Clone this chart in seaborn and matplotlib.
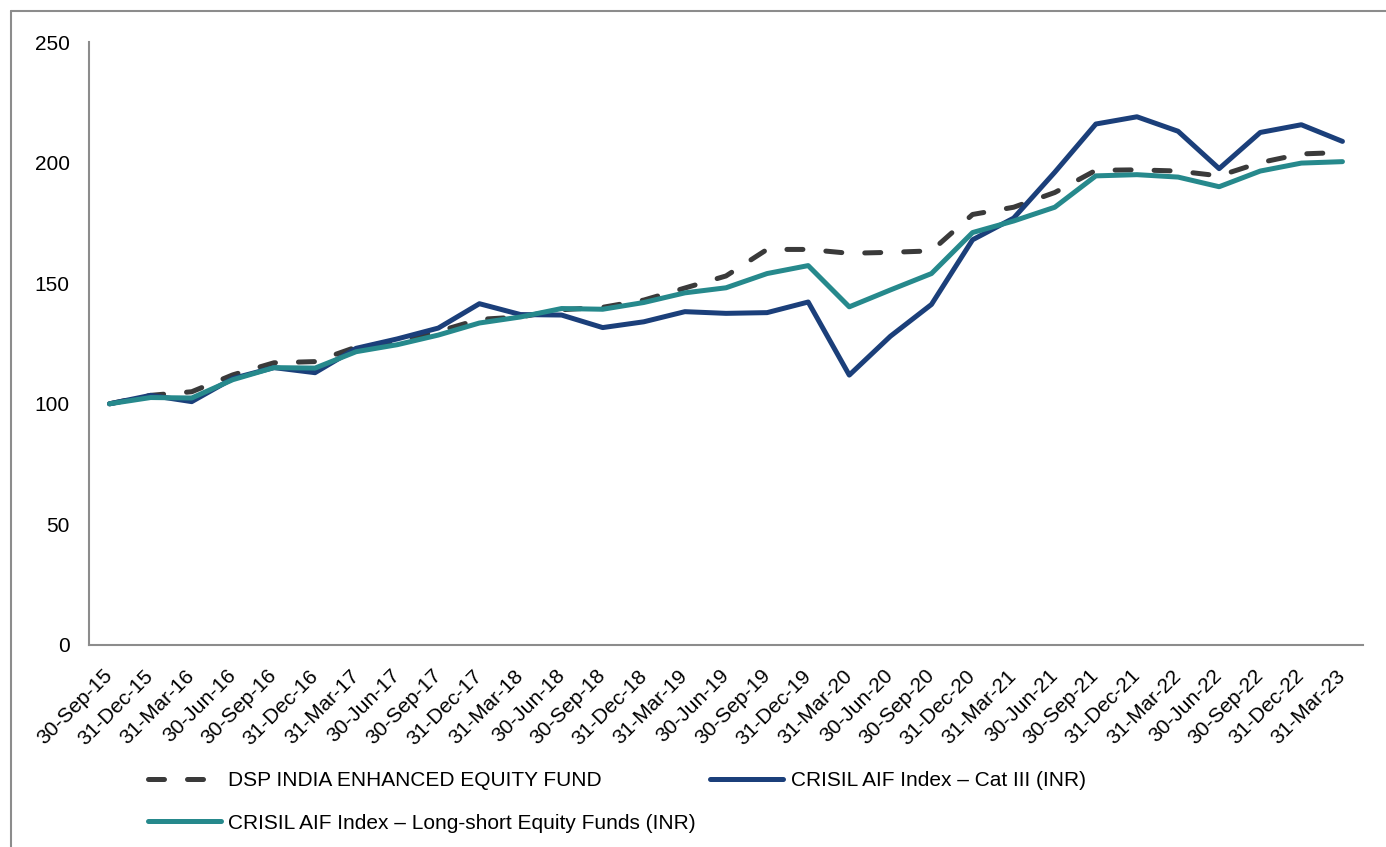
import matplotlib
matplotlib.use("Agg")
import matplotlib.pyplot as plt
from matplotlib.lines import Line2D
import numpy as np
import pandas as pd
import seaborn as sns

# quarter-end dates shown on the x axis
dates = ["30-Sep-15", "31-Dec-15", "31-Mar-16", "30-Jun-16", "30-Sep-16", "31-Dec-16",
         "31-Mar-17", "30-Jun-17", "30-Sep-17", "31-Dec-17", "31-Mar-18", "30-Jun-18",
         "30-Sep-18", "31-Dec-18", "31-Mar-19", "30-Jun-19", "30-Sep-19", "31-Dec-19",
         "31-Mar-20", "30-Jun-20", "30-Sep-20", "31-Dec-20", "31-Mar-21", "30-Jun-21",
         "30-Sep-21", "31-Dec-21", "31-Mar-22", "30-Jun-22", "30-Sep-22", "31-Dec-22",
         "31-Mar-23"]

# values rebased to 100
dsp_fund = [100, 103.5, 105, 112, 117, 117.5, 123.5, 125.8, 130, 135, 136, 139,
            140, 143, 148, 153, 164, 164, 162.4, 162.8, 163.4, 178.5, 181.5, 187.6,
            196.8, 197, 196.5, 194.5, 200, 203.6, 204.2]
cat_iii = [100, 103.5, 100.9, 110.5, 115, 112.9, 123, 126.9, 131.4, 141.5, 137, 136.8,
           131.6, 134, 138.2, 137.5, 137.8, 142.2, 111.9, 128, 141.2, 168, 177, 196,
           216, 219, 213, 197.5, 212.5, 215.7, 208.8]
long_short = [100, 102.6, 102.4, 110, 115, 114.8, 121.6, 124.5, 128.5, 133.5, 136, 139.5,
              139.2, 142, 146, 148.1, 154, 157.3, 140.2, 147.2, 154, 171, 175.8, 181.5,
              194.5, 195, 194, 190, 196.5, 199.8, 200.4]

labels = ["DSP INDIA ENHANCED EQUITY FUND",
          "CRISIL AIF Index \u2013 Cat III (INR)",
          "CRISIL AIF Index \u2013 Long-short Equity Funds (INR)"]

pos = np.arange(len(dates))
df = pd.DataFrame({"pos": pos, "dsp": dsp_fund, "cat3": cat_iii, "ls": long_short})

sns.set_theme(style="white")
plt.rcParams['font.family'] = ['Liberation Sans', 'DejaVu Sans']
plt.rcParams['text.color'] = 'black'
plt.rcParams['xtick.labelcolor'] = 'black'
plt.rcParams['ytick.labelcolor'] = 'black'

fig = plt.figure(figsize=(13.86, 8.47), dpi=100)
ax = fig.add_axes([0.0642, 0.2385, 0.9192, 0.7119])

sns.lineplot(data=df, x="pos", y="dsp", ax=ax, color="#3a3a3a", linewidth=3.6,
             label=labels[0])
sns.lineplot(data=df, x="pos", y="cat3", ax=ax, color="#1b3f7a", linewidth=3.6,
             label=labels[1])
sns.lineplot(data=df, x="pos", y="ls", ax=ax, color="#26898c", linewidth=3.6,
             label=labels[2])
lines = ax.get_lines()
lines[0].set_dashes([3.2, 4.6])
for ln in lines:
    ln.set_solid_capstyle("round")
    ln.set_dash_capstyle("round")

ax.set_xlim(-0.5, len(dates) - 0.5)
ax.set_ylim(0, 250)
ax.set_yticks([0, 50, 100, 150, 200, 250])
ax.set_xticks(np.arange(len(dates) + 1) - 0.5)
ax.set_xticklabels([])
ax.set_xticks(pos, minor=True)
ax.set_xticklabels(dates, minor=True, rotation=45, ha="right", va="center",
                   rotation_mode="anchor")
ax.tick_params(axis="x", which="minor", length=0, pad=20, labelsize=15)
ax.tick_params(axis="x", which="major", length=5, width=1.5, color="#8c8c8c", direction="out")
ax.tick_params(axis="y", length=6, width=1.5, color="#8c8c8c", direction="out", labelsize=15, pad=8)
ax.set_xlabel("")
ax.set_ylabel("")
sns.despine(ax=ax)
for side in ["left", "bottom"]:
    ax.spines[side].set_color("#8c8c8c")
    ax.spines[side].set_linewidth(1.5)

ax.get_legend().remove()
h = ax.get_lines()
fig.legend([h[0], h[2], h[1]], [labels[0], labels[2], labels[1]],
           loc="upper left", bbox_to_anchor=(148 / 1386, 1 - 771 / 847), ncol=2,
           frameon=False, fontsize=15, borderpad=0, borderaxespad=0,
           handlelength=3.5, handletextpad=0.35, labelspacing=1.13, columnspacing=0.7)

# outer frame (left and top edges visible)
fig.add_artist(Line2D([11 / 1386, 11 / 1386], [0, 1 - 11 / 847], color="#8c8c8c", lw=1.5,
                      transform=fig.transFigure))
fig.add_artist(Line2D([11 / 1386, 1.0], [1 - 11 / 847, 1 - 11 / 847], color="#8c8c8c", lw=1.5,
                      transform=fig.transFigure))

fig.savefig("out.png", dpi=100)
